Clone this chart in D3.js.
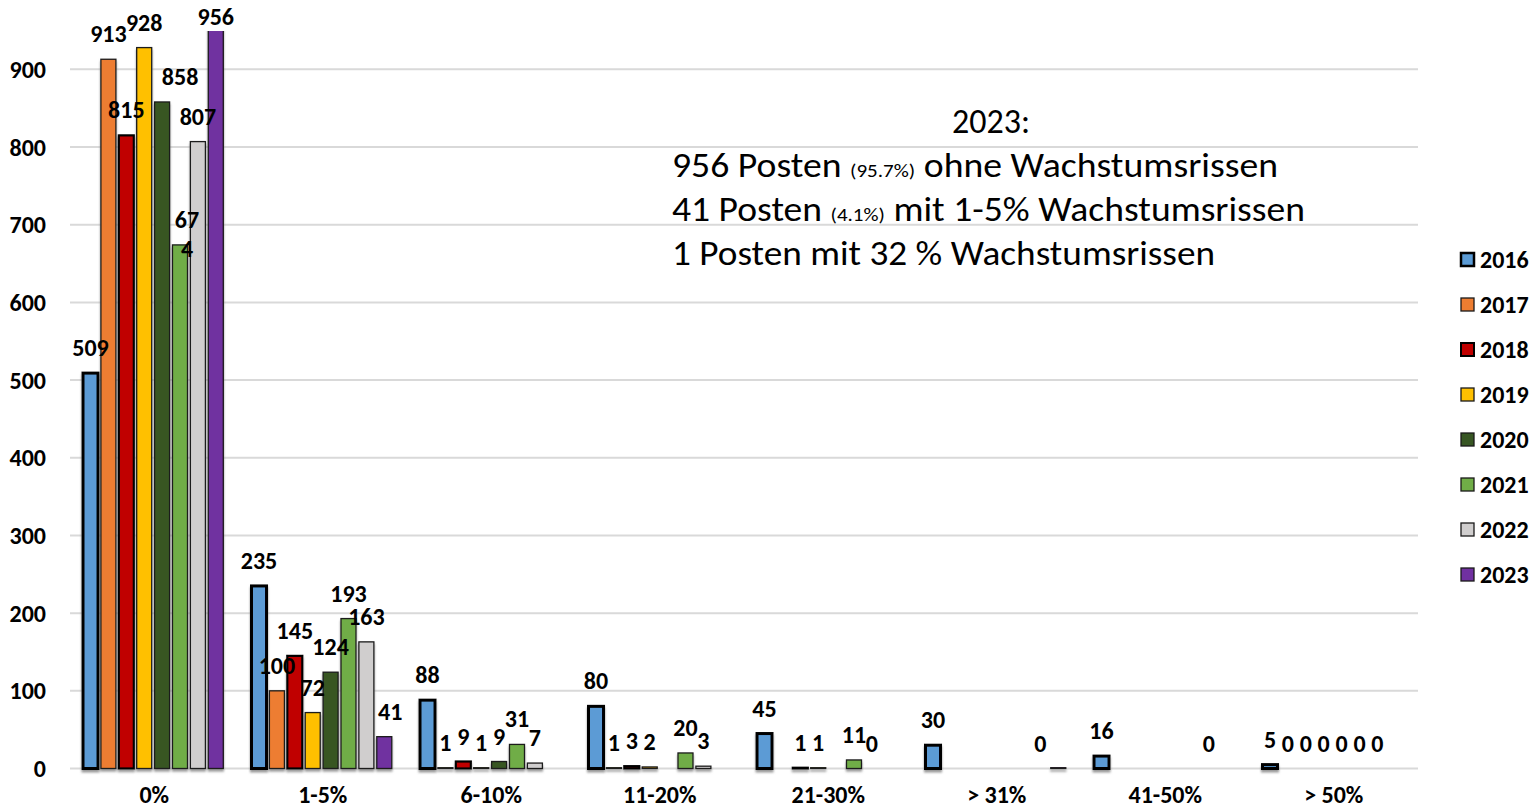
<!DOCTYPE html>
<html>
<head>
<meta charset="utf-8">
<script src="https://cdn.jsdelivr.net/npm/d3@7"></script>
<style>
  body { margin: 0; background: #fff; }
  svg { display: block; font-family: Calibri, Carlito, Lato, sans-serif; }
  .bold { font-weight: bold; font-size: 24px; fill: #000; }
  .note { font-size: 34px; fill: #000; }
</style>
</head>
<body>
<svg id="chart" width="1531" height="808"></svg>
<script>
const categories = ["0%", "1-5%", "6-10%", "11-20%", "21-30%", "> 31%", "41-50%", "> 50%"];
const years = ["2016", "2017", "2018", "2019", "2020", "2021", "2022", "2023"];

// null = no value in that class
const v2016 = [509, 235, 88, 80, 45, 30, 16, 5];
const v2017 = [913, 100, 1, 1, null, null, null, 0];
const v2018 = [815, 145, 9, 3, 1, null, null, 0];
const v2019 = [928, 72, 1, 2, 1, null, null, 0];
const v2020 = [858, 124, 9, null, null, null, null, 0];
const v2021 = [674, 193, 31, 20, 11, null, null, 0];
const v2022 = [807, 163, 7, 3, 0, 0, 0, 0];
const v2023 = [956, 41, null, null, null, 1, null, null];

const colors = ["#5B9BD5", "#ED7D31", "#C00000", "#FFC000", "#375623", "#70AD47", "#D0CECE", "#7030A0"];
const yTicks = [0, 100, 200, 300, 400, 500, 600, 700, 800, 900];

const noteTitle = "2023:";
const noteLines = [
  ["956 Posten ", "(95.7%)", " ohne Wachstumsrissen"],
  ["41 Posten ", "(4.1%)", " mit 1-5% Wachstumsrissen"],
  ["1 Posten mit 32 % Wachstumsrissen"]
];

const series = [v2016, v2017, v2018, v2019, v2020, v2021, v2022, v2023];

// label tweaks as they sit in the original
const labelShift = { "2020|0%": 18, "2021|0%": 7, "2023|1-5%": 6 };
const wrappedLabels = ["2021|0%"];
const hiddenLabels = ["2023|> 31%"];

const svg = d3.select("#chart");

const x0 = d3.scaleBand().domain(categories).range([70, 1418]);
const x1 = d3.scaleBand().domain(years).range([13, 153.3]).paddingInner(0.16);
const y = d3.scaleLinear().domain([0, 950]).range([768.5, 30.5]);

const defs = svg.append("defs");
defs.append("clipPath").attr("id", "plotClip")
  .append("rect").attr("x", 60).attr("y", 31).attr("width", 1370).attr("height", 760);
defs.append("filter").attr("id", "shadow")
  .attr("x", "-20%").attr("y", "-5%").attr("width", "140%").attr("height", "120%")
  .append("feDropShadow")
  .attr("dx", 0).attr("dy", 2.5).attr("stdDeviation", 1)
  .attr("flood-color", "#7f7f7f").attr("flood-opacity", 0.8);

// gridlines
svg.append("g")
  .selectAll("line")
  .data(yTicks)
  .join("line")
  .attr("x1", 70).attr("x2", 1418)
  .attr("y1", d => y(d)).attr("y2", d => y(d))
  .attr("stroke", "#d9d9d9")
  .attr("stroke-width", 2);

// y tick labels
svg.append("g")
  .selectAll("text")
  .data(yTicks)
  .join("text")
  .attr("class", "bold")
  .attr("x", 46)
  .attr("y", d => y(d))
  .attr("dy", "0.36em")
  .attr("text-anchor", "end")
  .text(d => d);

// category labels
svg.append("g")
  .selectAll("text")
  .data(categories)
  .join("text")
  .attr("class", "bold")
  .attr("x", d => x0(d) + x0.bandwidth() / 2)
  .attr("y", 803)
  .attr("text-anchor", "middle")
  .text(d => d);

const barData = [];
series.forEach((vals, i) => {
  vals.forEach((v, j) => {
    if (v === null) return;
    barData.push({ year: years[i], cat: categories[j], value: v, color: colors[i] });
  });
});

const bars = svg.append("g")
  .attr("clip-path", "url(#plotClip)")
  .attr("filter", "url(#shadow)");

bars.selectAll("rect")
  .data(barData.filter(d => d.value > 0))
  .join("rect")
  .attr("x", d => x0(d.cat) + x1(d.year))
  .attr("y", d => y(d.value))
  .attr("width", x1.bandwidth())
  .attr("height", d => y(0) - y(d.value))
  .attr("fill", d => d.color)
  .attr("stroke", d => (d.year === "2016" || d.year === "2018") ? "#000" : "#1a1a1a")
  .attr("stroke-width", d => d.year === "2016" ? 3 : d.year === "2018" ? 2.2 : 1.3);

// data labels
const labels = svg.append("g");
barData.forEach(d => {
  const key = d.year + "|" + d.cat;
  if (hiddenLabels.includes(key)) return;
  const cx = x0(d.cat) + x1(d.year) + x1.bandwidth() / 2 + (labelShift[key] || 0);
  const ty = Math.max(y(d.value) - 17, 25);
  const t = labels.append("text")
    .attr("class", "bold")
    .attr("x", cx)
    .attr("y", ty)
    .attr("text-anchor", "middle");
  const s = String(d.value);
  if (wrappedLabels.includes(key)) {
    t.append("tspan").attr("x", cx).text(s.slice(0, 2));
    t.append("tspan").attr("x", cx).attr("dy", 29).text(s.slice(2));
  } else {
    t.text(s);
  }
});

// legend
const legend = svg.append("g").attr("transform", "translate(1461,259.5)");
years.forEach((yr, i) => {
  legend.append("rect")
    .attr("x", 0)
    .attr("y", i * 45 - 6.5)
    .attr("width", 13)
    .attr("height", 13)
    .attr("fill", colors[i])
    .attr("stroke", i === 0 || i === 2 ? "#000" : "#1a1a1a")
    .attr("stroke-width", i === 0 ? 2.5 : i === 2 ? 2 : 1.3);
  legend.append("text")
    .attr("class", "bold")
    .attr("x", 19)
    .attr("y", i * 45 + 8.5)
    .text(yr);
});

// annotation
svg.append("text")
  .attr("class", "note")
  .attr("x", 991)
  .attr("y", 133)
  .attr("text-anchor", "middle")
  .text(noteTitle);

const noteWidths = [606, 633, 543];
noteLines.forEach((parts, i) => {
  const t = svg.append("text")
    .attr("class", "note")
    .attr("x", 672)
    .attr("y", 177 + i * 44)
    .attr("textLength", noteWidths[i])
    .attr("lengthAdjust", "spacingAndGlyphs");
  parts.forEach((p, k) => {
    t.append("tspan")
      .style("font-size", k === 1 ? "19px" : null)
      .text(p);
  });
});
</script>
</body>
</html>
